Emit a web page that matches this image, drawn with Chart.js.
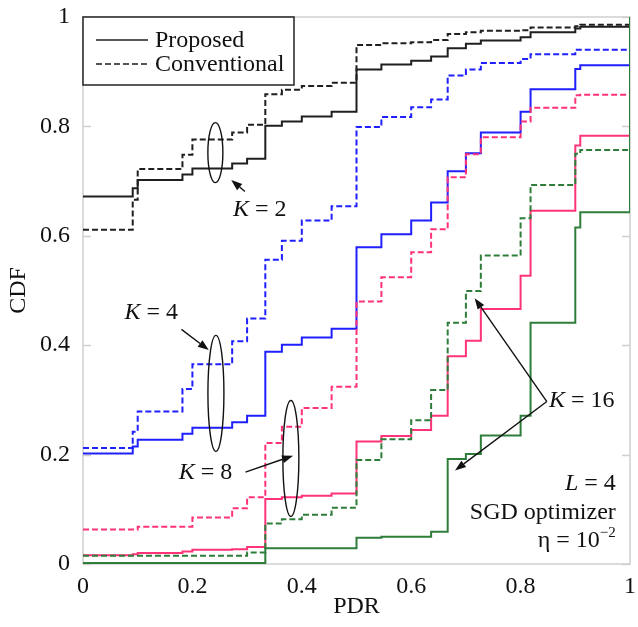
<!DOCTYPE html>
<html>
<head>
<meta charset="utf-8">
<script src="https://cdn.jsdelivr.net/npm/chart.js@4/dist/chart.umd.min.js"></script>
<style>
html,body{margin:0;padding:0;background:#fff;}
#wrap{width:638px;height:627px;}
</style>
</head>
<body>
<div id="wrap"><canvas id="c" width="638" height="627"></canvas></div>
<script>
// ---- Data ----
const pdr = [0, 0.0909, 0.1, 0.1818, 0.2, 0.2727, 0.3, 0.3333, 0.3636, 0.4, 0.4545, 0.5,
             0.5455, 0.6, 0.6364, 0.6667, 0.7, 0.7273, 0.8, 0.8182, 0.9, 0.9091, 1];

const k2Proposed     = [0.672, 0.687, 0.702, 0.712, 0.723, 0.732, 0.741, 0.801, 0.809, 0.818, 0.827, 0.904, 0.913, 0.920, 0.928, 0.943, 0.951, 0.957, 0.963, 0.972, 0.979, 0.982, 1];
const k2Conventional = [0.611, 0.666, 0.722, 0.748, 0.776, 0.789, 0.803, 0.859, 0.867, 0.874, 0.880, 0.949, 0.952, 0.954, 0.958, 0.969, 0.972, 0.975, 0.976, 0.981, 0.983, 0.986, 1];
const k4Proposed     = [0.202, 0.215, 0.227, 0.238, 0.249, 0.259, 0.271, 0.388, 0.401, 0.414, 0.430, 0.579, 0.603, 0.628, 0.661, 0.718, 0.751, 0.789, 0.827, 0.868, 0.905, 0.912, 1];
const k4Conventional = [0.212, 0.242, 0.279, 0.320, 0.365, 0.407, 0.449, 0.556, 0.591, 0.628, 0.654, 0.799, 0.817, 0.835, 0.849, 0.893, 0.904, 0.916, 0.923, 0.932, 0.940, 0.940, 1];
const k8Proposed     = [0.016, 0.018, 0.020, 0.023, 0.026, 0.027, 0.031, 0.119, 0.122, 0.125, 0.129, 0.224, 0.234, 0.245, 0.271, 0.380, 0.408, 0.466, 0.527, 0.646, 0.765, 0.783, 1];
const k8Conventional = [0.063, 0.063, 0.068, 0.068, 0.085, 0.102, 0.122, 0.221, 0.251, 0.285, 0.324, 0.480, 0.524, 0.570, 0.612, 0.707, 0.749, 0.780, 0.809, 0.834, 0.857, 0.858, 1];
const k16Proposed    = [0.002, 0.002, 0.002, 0.002, 0.002, 0.002, 0.002, 0.029, 0.029, 0.029, 0.029, 0.048, 0.050, 0.050, 0.059, 0.192, 0.201, 0.235, 0.271, 0.441, 0.615, 0.643, 1];
const k16Conventional= [0.015, 0.015, 0.015, 0.015, 0.015, 0.015, 0.021, 0.074, 0.082, 0.090, 0.103, 0.190, 0.228, 0.263, 0.318, 0.441, 0.499, 0.564, 0.632, 0.693, 0.750, 0.757, 1];

const xTicks = [0, 0.2, 0.4, 0.6, 0.8, 1];
const yTicks = [0, 0.2, 0.4, 0.6, 0.8, 1];
const legendLabels = ['Proposed', 'Conventional'];

// ---- Styles ----
const FONT = '"Liberation Serif", "Times New Roman", serif';
const FS = 24;
const COL = { k2: '#1f1f1f', k4: '#1f1fff', k8: '#ff3377', k16: '#2e7d3a' };
const DASH = [6, 3];

function pts(ys) { return pdr.map((x, i) => ({ x: x, y: ys[i] })); }
function ds(label, ys, color, dashed) {
  return { label, data: pts(ys), borderColor: color, borderWidth: 2, borderDash: dashed ? DASH : [],
           stepped: true, pointRadius: 0, fill: false, tension: 0 };
}

const datasets = [
  ds('K=16 Conventional', k16Conventional, COL.k16, true),
  ds('K=16 Proposed', k16Proposed, COL.k16, false),
  ds('K=8 Conventional', k8Conventional, COL.k8, true),
  ds('K=8 Proposed', k8Proposed, COL.k8, false),
  ds('K=4 Conventional', k4Conventional, COL.k4, true),
  ds('K=4 Proposed', k4Proposed, COL.k4, false),
  ds('K=2 Conventional', k2Conventional, COL.k2, true),
  ds('K=2 Proposed', k2Proposed, COL.k2, false)
];

// ---- Annotations (data coordinates) ----
const ellipses = [
  { x: 0.242, y: 0.752, rx: 7.5, ry: 30 },
  { x: 0.243, y: 0.312, rx: 8, ry: 58 },
  { x: 0.380, y: 0.193, rx: 8, ry: 58 }
];
const arrows = [
  { from: [0.296, 0.681], to: [0.271, 0.702] },
  { from: [0.180, 0.429], to: [0.230, 0.391] },
  { from: [0.297, 0.168], to: [0.384, 0.198] },
  { from: [0.848, 0.297], to: [0.716, 0.486] },
  { from: [0.848, 0.297], to: [0.680, 0.171] }
];
const kLabels = [
  { x: 0.274, y: 0.648, value: '2' },
  { x: 0.076, y: 0.459, value: '4' },
  { x: 0.175, y: 0.167, value: '8' },
  { x: 0.852, y: 0.299, value: '16' }
];
const noteLines = [
  { y: 0.146, parts: [['L', 'italic'], [' = 4', 'normal']] },
  { y: 0.093, parts: [['SGD optimizer', 'normal']] },
  { y: 0.042, parts: [['\u03B7 = 10', 'normal'], ['\u22122', 'sup']] }
];
const noteRightX = 0.974;

function fontFor(style) {
  if (style === 'italic') return 'italic ' + FS + 'px ' + FONT;
  if (style === 'sup') return '15px ' + FONT;
  return FS + 'px ' + FONT;
}

const decor = {
  id: 'decor',
  beforeDatasetsDraw(chart) {
    const { ctx, chartArea: a, scales: { y } } = chart;
    ctx.save();
    ctx.strokeStyle = '#cfcfcf';
    ctx.lineWidth = 1.5;
    ctx.strokeRect(a.left, a.top, a.right - a.left, a.bottom - a.top);
    ctx.beginPath();
    yTicks.forEach(v => {
      const py = Math.round(y.getPixelForValue(v)) + 0.5;
      ctx.moveTo(a.left, py); ctx.lineTo(a.left + 8, py);
      ctx.moveTo(a.right, py); ctx.lineTo(a.right - 8, py);
    });
    ctx.stroke();
    ctx.restore();
  },
  afterDatasetsDraw(chart) {
    const { ctx, chartArea: a, scales: { x, y } } = chart;
    ctx.save();
    // Legend box
    const lx = a.left, ly = a.top, lw = 211, lh = 68;
    ctx.fillStyle = '#fff';
    ctx.fillRect(lx, ly, lw, lh);
    ctx.strokeStyle = '#222';
    ctx.lineWidth = 1.5;
    ctx.strokeRect(lx, ly, lw, lh);
    ctx.font = FS + 'px ' + FONT;
    ctx.fillStyle = '#111';
    ctx.textBaseline = 'middle';
    ctx.textAlign = 'left';
    legendLabels.forEach((t, i) => {
      const yy = ly + 23 + i * 24;
      ctx.beginPath();
      ctx.setLineDash(i === 1 ? DASH : []);
      ctx.strokeStyle = '#1f1f1f';
      ctx.lineWidth = 1.6;
      ctx.moveTo(lx + 13, yy); ctx.lineTo(lx + 65, yy);
      ctx.stroke();
      ctx.setLineDash([]);
      ctx.fillText(t, lx + 72, yy + 1);
    });

    // Ellipses
    ctx.strokeStyle = '#111';
    ctx.lineWidth = 1.4;
    ellipses.forEach(e => {
      ctx.beginPath();
      ctx.ellipse(x.getPixelForValue(e.x), y.getPixelForValue(e.y), e.rx, e.ry, 0, 0, Math.PI * 2);
      ctx.stroke();
    });

    // Arrows
    arrows.forEach(ar => {
      const x0 = x.getPixelForValue(ar.from[0]), y0 = y.getPixelForValue(ar.from[1]);
      const x1 = x.getPixelForValue(ar.to[0]), y1 = y.getPixelForValue(ar.to[1]);
      const ang = Math.atan2(y1 - y0, x1 - x0);
      const hl = 11, hw = 4;
      const bx = x1 - hl * Math.cos(ang), by = y1 - hl * Math.sin(ang);
      ctx.beginPath();
      ctx.moveTo(x0, y0); ctx.lineTo(bx, by);
      ctx.lineWidth = 1.4;
      ctx.strokeStyle = '#111';
      ctx.stroke();
      ctx.beginPath();
      ctx.moveTo(x1, y1);
      ctx.lineTo(bx - hw * Math.sin(ang), by + hw * Math.cos(ang));
      ctx.lineTo(bx + hw * Math.sin(ang), by - hw * Math.cos(ang));
      ctx.closePath();
      ctx.fillStyle = '#111';
      ctx.fill();
    });

    // K labels
    ctx.fillStyle = '#111';
    ctx.textBaseline = 'middle';
    ctx.textAlign = 'left';
    kLabels.forEach(k => {
      let px = x.getPixelForValue(k.x);
      const py = y.getPixelForValue(k.y);
      ctx.font = 'italic ' + FS + 'px ' + FONT;
      ctx.fillText('K', px, py);
      px += ctx.measureText('K').width;
      ctx.font = FS + 'px ' + FONT;
      ctx.fillText(' = ' + k.value, px, py);
    });

    // Notes, right-aligned
    noteLines.forEach(line => {
      const py = y.getPixelForValue(line.y);
      let total = 0;
      line.parts.forEach(p => { ctx.font = fontFor(p[1]); total += ctx.measureText(p[0]).width; });
      let px = x.getPixelForValue(noteRightX) - total;
      line.parts.forEach(p => {
        ctx.font = fontFor(p[1]);
        ctx.fillText(p[0], px, p[1] === 'sup' ? py - 8 : py);
        px += ctx.measureText(p[0]).width;
      });
    });
    ctx.restore();
  }
};

new Chart(document.getElementById('c'), {
  type: 'line',
  data: { datasets },
  options: {
    responsive: false,
    animation: false,
    layout: { padding: { top: 17, right: 8, left: 0, bottom: 0 } },
    plugins: { legend: { display: false }, tooltip: { enabled: false } },
    scales: {
      x: {
        type: 'linear', min: 0, max: 1,
        afterFit(s) { s.height = 63; s.paddingLeft = 0; s.paddingRight = 0; s.paddingTop = 0; s.paddingBottom = 0; },
        afterBuildTicks(s) { s.ticks = xTicks.map(v => ({ value: v })); },
        ticks: { color: '#111', font: { family: FONT, size: FS }, padding: 8, maxRotation: 0,
                 callback: v => String(v) },
        grid: { display: false, drawTicks: false },
        border: { display: false },
        title: { display: true, text: 'PDR', color: '#111', font: { family: FONT, size: FS }, padding: { top: 0, bottom: 6 } }
      },
      y: {
        type: 'linear', min: 0, max: 1,
        afterFit(s) { s.width = 83; s.paddingTop = 0; s.paddingBottom = 0; s.paddingLeft = 0; s.paddingRight = 0; },
        afterBuildTicks(s) { s.ticks = yTicks.map(v => ({ value: v })); },
        ticks: { color: '#111', font: { family: FONT, size: FS }, padding: 13,
                 callback: v => String(v) },
        grid: { display: false, drawTicks: false },
        border: { display: false },
        title: { display: true, text: 'CDF', color: '#111', font: { family: FONT, size: FS }, padding: { top: 4, bottom: 0 } }
      }
    }
  },
  plugins: [decor]
});
</script>
</body>
</html>
